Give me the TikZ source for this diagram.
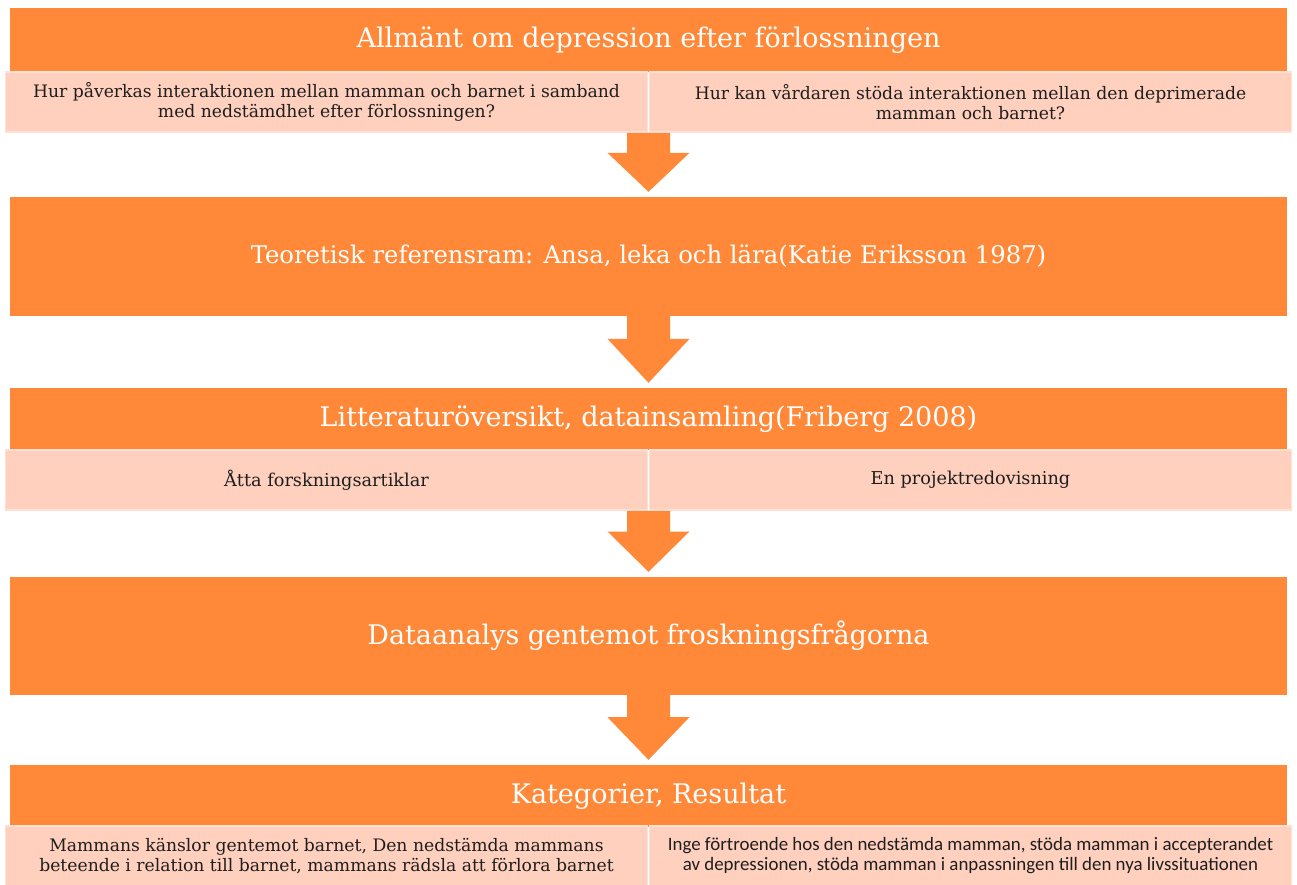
\documentclass[tikz,border=0pt]{standalone}
\usepackage{fontspec}
\setmainfont{DejaVu Serif}
\newfontfamily\calib{Carlito}
\usetikzlibrary{calc}
\definecolor{orng}{RGB}{255,137,56}
\definecolor{lite}{RGB}{255,208,190}
\definecolor{liteedge}{RGB}{255,224,212}
\definecolor{ink}{RGB}{30,30,30}
\tikzset{
  obox/.style={fill=orng, draw=none, minimum width=1277pt, inner sep=0pt, text=white, font=\fontsize{27}{31}\selectfont},
  lbox/.style={fill=lite, draw=liteedge, line width=1.5pt, minimum width=642pt, minimum height=60pt, inner sep=0pt, text=ink, align=center, font=\fontsize{17.2}{20}\selectfont},
  barrow/.style={fill=orng, draw=none}
}
\newcommand\blockarrow[2]{%
  \path let \p1=(#1), \p2=(#2), \n1={\y1-\y2-5pt} in
    [barrow] (\x1-21.5pt,\y1) -- (\x1+21.5pt,\y1) -- (\x1+21.5pt,\y1-0.34*\n1) -- (\x1+41pt,\y1-0.34*\n1)
    -- (\x1,\y2+5pt) -- (\x1-41pt,\y1-0.34*\n1) -- (\x1-21.5pt,\y1-0.34*\n1) -- cycle;}
\begin{document}
\begin{tikzpicture}[x=1pt,y=-1pt]
\useasboundingbox[fill=white] (0,0) rectangle (1297,884);
% row 1
\node[obox, minimum height=64pt] (t1) at (648.5,40) {Allmänt om depression efter förlossningen};
\node[lbox] (q1) at (326.5,102) {Hur påverkas interaktionen mellan mamman och barnet i samband\\med nedstämdhet efter förlossningen?};
\node[lbox] (q2) at (970.5,102) {Hur kan vårdaren stöda interaktionen mellan den deprimerade\\mamman och barnet?};
% row 2
\node[obox, minimum height=119pt, font=\fontsize{24.3}{28}\selectfont] (t2) at (648.5,256.5) {Teoretisk referensram: Ansa, leka och lära(Katie Eriksson 1987)};
% row 3
\node[obox, minimum height=62pt] (t3) at (648.5,419) {Litteraturöversikt, datainsamling(Friberg 2008)};
\node[lbox, font=\fontsize{17.7}{20}\selectfont] (d1) at (326.5,480) {Åtta forskningsartiklar};
\node[lbox, font=\fontsize{17.7}{20}\selectfont] (d2) at (970.5,480) {En projektredovisning};
% row 4
\node[obox, minimum height=118pt] (t4) at (648.5,636) {Dataanalys gentemot froskningsfrågorna};
% row 5
\node[obox, minimum height=62pt] (t5) at (648.5,796) {Kategorier, Resultat};
\node[lbox] (r1) at (326.5,856) {Mammans känslor gentemot barnet, Den nedstämda mammans\\beteende i relation till barnet, mammans rädsla att förlora barnet};
\node[lbox, font=\calib\fontsize{18.9}{20}\selectfont] (r2) at (970.5,856) {Inge förtroende hos den nedstämda mamman, stöda mamman i accepterandet\\av depressionen, stöda mamman i anpassningen till den nya livssituationen};
% arrows
\coordinate (a1s) at (q1.south -| t1.south);
\blockarrow{a1s}{t2.north}
\blockarrow{t2.south}{t3.north}
\coordinate (a3s) at (d1.south -| t3.south);
\blockarrow{a3s}{t4.north}
\blockarrow{t4.south}{t5.north}
\end{tikzpicture}
\end{document}
